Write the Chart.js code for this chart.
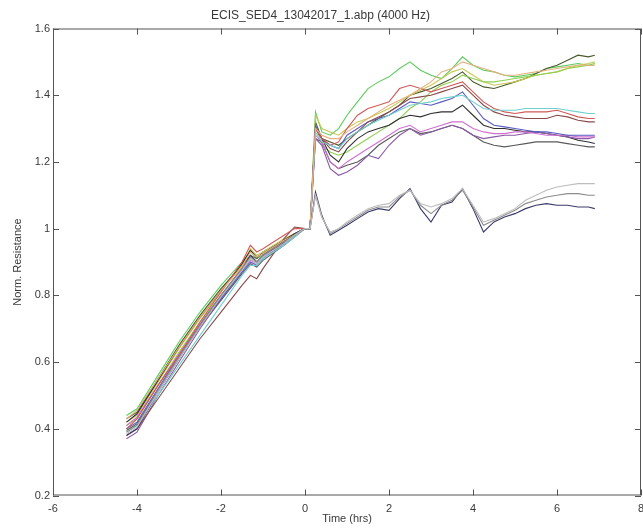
<!DOCTYPE html>
<html>
<head>
<meta charset="utf-8">
<script src="https://cdn.jsdelivr.net/npm/chart.js@4/dist/chart.umd.min.js"></script>
<style>
  html, body { margin: 0; padding: 0; background: #fff; }
  canvas { display: block; }
</style>
</head>
<body>
<canvas id="ecisChart" width="643" height="528"></canvas>
<script>
// time axis (hrs) shared by all wells
const time = [-4.25,-4,-3.5,-3,-2.5,-2,-1.5,-1.3,-1.15,-1,-0.5,-0.25,0,
  0.12,0.25,0.4,0.6,0.8,1,1.25,1.5,1.75,2,2.25,2.5,2.75,3,3.25,3.5,3.75,4,4.25,4.5,4.75,5,5.25,5.5,5.75,6,6.25,6.5,6.75,6.9];

const xTicks = [-6,-4,-2,0,2,4,6,8];
const xTickLabels = ['-6','-4','-2','0','2','4','6','8'];
const yTicks = [0.2,0.4,0.6,0.8,1,1.2,1.4,1.6];
const yTickLabels = ['0.2','0.4','0.6','0.8','1','1.2','1.4','1.6'];

// normalised resistance per well
const wellGreen = [0.44,0.46,0.56,0.66,0.75,0.83,0.90,0.93,0.91,0.92,0.96,0.98,1.0,
  1.0,1.35,1.29,1.28,1.30,1.34,1.38,1.42,1.44,1.455,1.48,1.50,1.475,1.46,1.45,1.48,1.515,1.49,1.475,1.47,1.46,1.455,1.46,1.465,1.48,1.485,1.49,1.495,1.49,1.495];
const wellOlive = [0.43,0.45,0.55,0.65,0.74,0.82,0.89,0.92,0.91,0.93,0.965,0.985,1.0,
  1.0,1.32,1.27,1.26,1.25,1.27,1.29,1.31,1.33,1.35,1.37,1.40,1.41,1.42,1.435,1.45,1.47,1.44,1.425,1.42,1.43,1.44,1.45,1.465,1.48,1.49,1.505,1.52,1.515,1.52];
const wellYellow = [0.42,0.44,0.54,0.64,0.73,0.81,0.89,0.94,0.92,0.93,0.97,0.985,1.0,
  1.0,1.34,1.30,1.29,1.28,1.30,1.32,1.33,1.345,1.36,1.38,1.40,1.415,1.43,1.45,1.47,1.48,1.46,1.44,1.43,1.435,1.44,1.45,1.46,1.465,1.47,1.48,1.49,1.495,1.50];
const wellLime = [0.41,0.43,0.53,0.63,0.72,0.80,0.88,0.91,0.90,0.92,0.96,0.98,1.0,
  1.0,1.31,1.25,1.23,1.22,1.23,1.25,1.27,1.29,1.31,1.33,1.36,1.38,1.41,1.43,1.44,1.46,1.45,1.44,1.44,1.445,1.45,1.455,1.46,1.465,1.47,1.48,1.485,1.49,1.49];
const wellOrange = [0.43,0.455,0.55,0.645,0.735,0.815,0.885,0.93,0.915,0.925,0.965,0.98,1.0,
  1.0,1.30,1.28,1.27,1.27,1.29,1.31,1.33,1.35,1.37,1.385,1.40,1.42,1.44,1.47,1.48,1.50,1.49,1.48,1.47,1.46,1.46,1.465,1.47,1.475,1.48,1.485,1.49,1.49,1.49];
const wellRed = [0.40,0.43,0.53,0.62,0.72,0.81,0.90,0.95,0.93,0.94,0.98,1.0,1.0,
  1.0,1.30,1.27,1.25,1.26,1.30,1.34,1.36,1.37,1.38,1.42,1.43,1.42,1.41,1.42,1.43,1.44,1.41,1.38,1.36,1.35,1.345,1.35,1.35,1.35,1.355,1.345,1.335,1.33,1.33];
const wellCyan = [0.39,0.41,0.50,0.59,0.68,0.77,0.86,0.89,0.89,0.91,0.95,0.975,1.0,
  1.0,1.29,1.26,1.25,1.24,1.27,1.29,1.31,1.325,1.34,1.355,1.37,1.375,1.38,1.39,1.395,1.40,1.38,1.36,1.355,1.355,1.355,1.36,1.36,1.36,1.36,1.355,1.35,1.345,1.345];
const wellBrown = [0.38,0.40,0.49,0.58,0.67,0.75,0.83,0.86,0.85,0.88,0.97,1.005,1.0,
  1.0,1.30,1.27,1.24,1.23,1.26,1.29,1.32,1.335,1.35,1.37,1.39,1.395,1.40,1.41,1.42,1.43,1.40,1.37,1.35,1.34,1.335,1.33,1.33,1.33,1.34,1.335,1.325,1.32,1.32];
const wellBlue = [0.40,0.42,0.52,0.62,0.71,0.79,0.87,0.90,0.89,0.91,0.955,0.98,1.0,
  1.0,1.31,1.27,1.25,1.24,1.28,1.30,1.32,1.33,1.34,1.36,1.38,1.375,1.37,1.38,1.39,1.41,1.37,1.33,1.31,1.305,1.30,1.295,1.29,1.29,1.285,1.28,1.28,1.28,1.28];
const wellBlack = [0.42,0.445,0.545,0.645,0.735,0.815,0.895,0.935,0.915,0.925,0.965,0.985,1.0,
  1.0,1.30,1.27,1.22,1.20,1.24,1.27,1.29,1.30,1.31,1.33,1.34,1.335,1.345,1.35,1.35,1.37,1.34,1.31,1.30,1.30,1.295,1.29,1.29,1.285,1.28,1.275,1.265,1.26,1.255];
const wellMagenta = [0.41,0.435,0.53,0.625,0.715,0.795,0.875,0.905,0.895,0.915,0.955,0.98,1.0,
  1.0,1.28,1.26,1.20,1.18,1.20,1.22,1.24,1.26,1.28,1.30,1.31,1.29,1.30,1.31,1.32,1.32,1.30,1.29,1.285,1.285,1.29,1.29,1.285,1.28,1.28,1.28,1.275,1.275,1.275];
const wellPurple = [0.37,0.39,0.50,0.60,0.70,0.79,0.87,0.92,0.90,0.915,0.96,0.98,1.0,
  1.0,1.27,1.25,1.18,1.16,1.17,1.19,1.22,1.21,1.25,1.28,1.30,1.28,1.29,1.30,1.31,1.30,1.28,1.27,1.275,1.28,1.28,1.285,1.29,1.285,1.28,1.275,1.27,1.27,1.275];
const wellDarkGray = [0.395,0.415,0.515,0.615,0.705,0.785,0.865,0.895,0.885,0.905,0.95,0.975,1.0,
  1.0,1.27,1.26,1.20,1.18,1.19,1.20,1.22,1.25,1.27,1.29,1.30,1.285,1.29,1.30,1.31,1.30,1.28,1.26,1.25,1.245,1.25,1.255,1.26,1.26,1.26,1.255,1.25,1.245,1.245];
const wellNavy = [0.38,0.40,0.51,0.61,0.71,0.80,0.88,0.92,0.90,0.92,0.96,0.98,1.0,
  1.0,1.11,1.04,0.98,0.995,1.01,1.03,1.05,1.06,1.055,1.09,1.12,1.06,1.02,1.07,1.08,1.12,1.06,0.99,1.02,1.035,1.045,1.06,1.07,1.075,1.07,1.07,1.065,1.065,1.06];
const wellGray = [0.39,0.41,0.515,0.615,0.71,0.80,0.88,0.915,0.90,0.92,0.96,0.98,1.0,
  1.0,1.10,1.035,0.985,1.0,1.015,1.035,1.055,1.065,1.065,1.095,1.115,1.07,1.045,1.07,1.085,1.115,1.065,1.01,1.025,1.04,1.055,1.075,1.085,1.095,1.10,1.105,1.105,1.10,1.10];
const wellLightGray = [0.385,0.405,0.51,0.61,0.705,0.795,0.875,0.91,0.895,0.915,0.955,0.98,1.0,
  1.0,1.10,1.035,0.99,1.0,1.02,1.04,1.06,1.07,1.075,1.10,1.115,1.075,1.065,1.075,1.09,1.12,1.07,1.02,1.03,1.045,1.06,1.085,1.10,1.115,1.125,1.13,1.135,1.135,1.135];

const wells = [
  { data: wellLightGray, color: '#bdbdbd' },
  { data: wellGray, color: '#8c8c8c' },
  { data: wellNavy, color: '#3a3a6a' },
  { data: wellOrange, color: '#e8b080' },
  { data: wellCyan, color: '#70d0d0' },
  { data: wellRed, color: '#d05a5a' },
  { data: wellBrown, color: '#8a4a4a' },
  { data: wellBlue, color: '#5a5ac0' },
  { data: wellMagenta, color: '#d070d0' },
  { data: wellPurple, color: '#8a5aa8' },
  { data: wellDarkGray, color: '#5a5a5a' },
  { data: wellBlack, color: '#303030' },
  { data: wellLime, color: '#90d050' },
  { data: wellYellow, color: '#c8c850' },
  { data: wellOlive, color: '#4a5a2a' },
  { data: wellGreen, color: '#5ccc5c' }
];

// box round the axes with MATLAB style inward ticks
const framePlugin = {
  id: 'frame',
  afterDatasetsDraw(chart) {
    const { ctx, chartArea: a, scales: { x, y } } = chart;
    ctx.save();
    ctx.strokeStyle = '#555';
    ctx.lineWidth = 1;
    ctx.strokeRect(a.left + 0.5, a.top + 0.5, a.width - 1, a.height - 1);
    ctx.beginPath();
    xTicks.forEach(v => {
      const px = Math.round(x.getPixelForValue(v)) + 0.5;
      ctx.moveTo(px, a.bottom); ctx.lineTo(px, a.bottom - 6);
      ctx.moveTo(px, a.top); ctx.lineTo(px, a.top + 6);
    });
    yTicks.forEach(v => {
      const py = Math.round(y.getPixelForValue(v)) + 0.5;
      ctx.moveTo(a.left, py); ctx.lineTo(a.left + 6, py);
      ctx.moveTo(a.right, py); ctx.lineTo(a.right - 6, py);
    });
    ctx.stroke();
    ctx.restore();
  }
};

const textColor = '#3a3a3a';
const fontFamily = '"Liberation Sans", Arial, sans-serif';

new Chart(document.getElementById('ecisChart').getContext('2d'), {
  type: 'line',
  data: {
    labels: time,
    datasets: wells.map(w => ({
      data: w.data.map((v, i) => ({ x: time[i], y: v })),
      borderColor: w.color,
      borderWidth: 1.1,
      pointRadius: 0,
      tension: 0,
      fill: false
    }))
  },
  options: {
    responsive: false,
    animation: false,
    devicePixelRatio: 1,
    layout: { padding: { left: 0, right: 2, top: 0, bottom: 0 } },
    plugins: {
      legend: { display: false },
      tooltip: { enabled: false },
      title: {
        display: true,
        text: 'ECIS_SED4_13042017_1.abp (4000 Hz)',
        color: textColor,
        font: { family: fontFamily, size: 12, weight: 'normal' },
        padding: { top: 8, bottom: 6.1 }
      }
    },
    scales: {
      x: {
        type: 'linear',
        min: -6,
        max: 8,
        grid: { display: false, drawTicks: false },
        border: { display: false },
        afterBuildTicks: s => { s.ticks = xTicks.map(v => ({ value: v })); },
        afterFit: s => { s.height = 32.5; s.paddingLeft = 0; s.paddingRight = 0; },
        ticks: {
          color: textColor,
          padding: 7,
          maxRotation: 0,
          autoSkip: false,
          font: { family: fontFamily, size: 11 },
          callback: (v, i) => xTickLabels[i]
        },
        title: {
          display: true,
          text: 'Time (hrs)',
          color: textColor,
          font: { family: fontFamily, size: 11 },
          padding: { top: 0, bottom: 2.4 }
        }
      },
      y: {
        type: 'linear',
        min: 0.2,
        max: 1.6,
        grid: { display: false, drawTicks: false },
        border: { display: false },
        afterBuildTicks: s => { s.ticks = yTicks.map(v => ({ value: v })); },
        afterFit: s => { s.width = 53; s.paddingTop = 0; s.paddingBottom = 0; },
        ticks: {
          color: textColor,
          padding: 3,
          autoSkip: false,
          font: { family: fontFamily, size: 11 },
          callback: (v, i) => yTickLabels[i]
        },
        title: {
          display: true,
          text: 'Norm. Resistance',
          color: textColor,
          font: { family: fontFamily, size: 11 },
          padding: { top: 11.4, bottom: 0 }
        }
      }
    }
  },
  plugins: [framePlugin]
});
</script>
</body>
</html>
